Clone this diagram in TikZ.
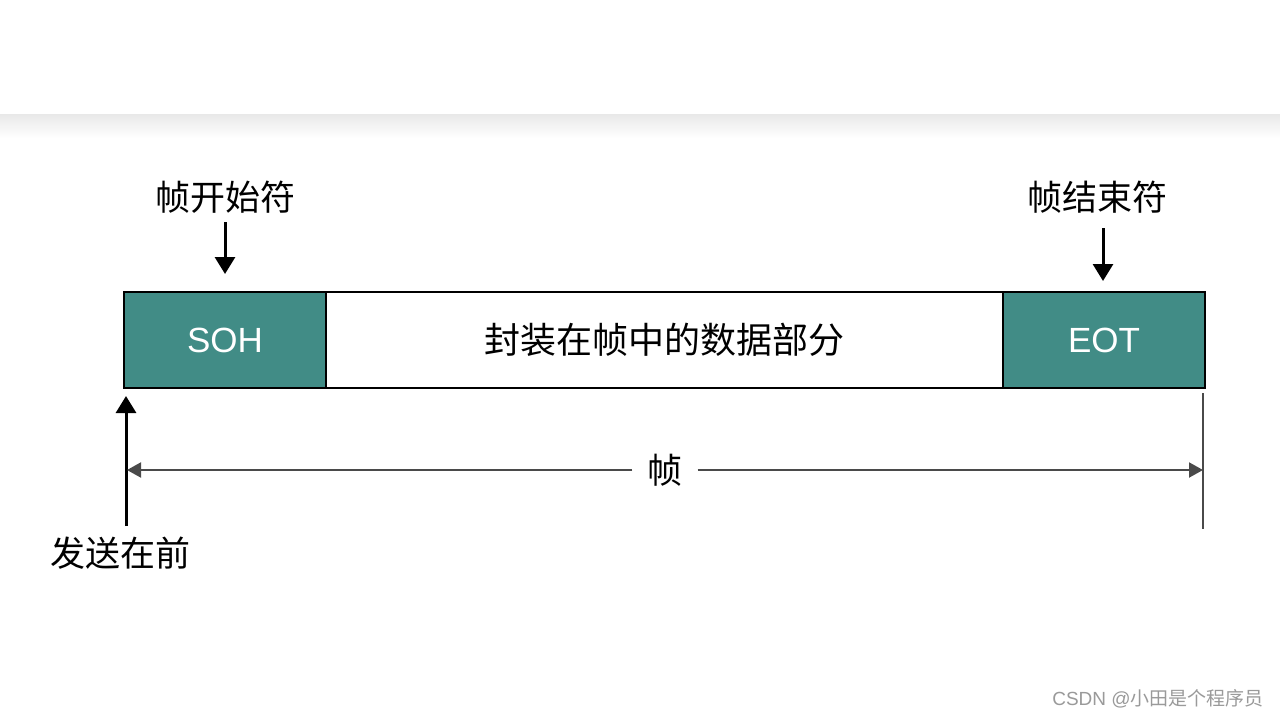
\documentclass[tikz,border=0pt]{standalone}
\usepackage{fontspec}
\setmainfont{Liberation Sans}
\newfontfamily\cjk{Noto Sans CJK SC}
\usetikzlibrary{arrows.meta}
\definecolor{tealbox}{HTML}{418C86}
\definecolor{dimgray}{HTML}{4A4A4A}
\definecolor{wmgray}{HTML}{9A9A9A}
\begin{document}
\begin{tikzpicture}[x=1pt,y=-1pt,
  cell/.style={draw=black, line width=2pt, minimum height=96pt, inner sep=0pt, anchor=center},
  tealcell/.style={cell, fill=tealbox, text=white, font=\fontsize{35}{40}\selectfont},
  midcell/.style={cell, fill=white, text=black, font=\fontsize{36}{40}\selectfont\cjk},
  lbl/.style={inner sep=0pt, font=\fontsize{35}{40}\selectfont\cjk, text=black},
  blk/.style={line width=3pt, -{Triangle[width=20pt,length=17pt]}},
  dim/.style={draw=dimgray, line width=2pt},
  dimarrow/.style={dim, -{Triangle[width=15pt,length=14pt]}}
]
\useasboundingbox (0,0) rectangle (1280,720);
\fill[white] (0,0) rectangle (1280,720);
\shade[top color=black!9, bottom color=white] (0,114) rectangle (1280,138);

% frame cells
\node[midcell, minimum width=677pt] (data) at (664.5,340) {封装在帧中的数据部分};
\node[tealcell, minimum width=202pt] (soh) at (225,340) {SOH};
\node[tealcell, minimum width=202pt] (eot) at (1104,340) {EOT};

% top labels and arrows
\node[lbl] (startlbl) at (225,197) {帧开始符};
\node[lbl] (endlbl) at (1097,197) {帧结束符};
\coordinate (sa) at (225,222);
\coordinate (sb) at (225,274);
\coordinate (ea) at (1103,228);
\coordinate (eb) at (1103,281);
\draw[blk] (sa) -- (sb);
\draw[blk] (ea) -- (eb);

% send-first arrow
\node[lbl] (sendlbl) at (120,553) {发送在前};
\coordinate (ua) at (126,526);
\coordinate (ub) at (126,396);
\draw[blk] (ua) -- (ub);

% frame dimension line
\node[lbl, inner xsep=15pt] (frm) at (665,470) {帧};
\coordinate (dl) at (127,470);
\coordinate (dr) at (1203,470);
\draw[dimarrow] (frm.west) -- (dl);
\draw[dimarrow] (frm.east) -- (dr);
\coordinate (vr1) at (1203,393);
\coordinate (vr2) at (1203,529);
\draw[dim] (vr1) -- (vr2);

% watermark
\node[inner sep=0pt, text=wmgray, font=\fontsize{19}{21}\selectfont] (wm) at (1158,699) {CSDN @{\cjk 小田是个程序员}};
\end{tikzpicture}
\end{document}
